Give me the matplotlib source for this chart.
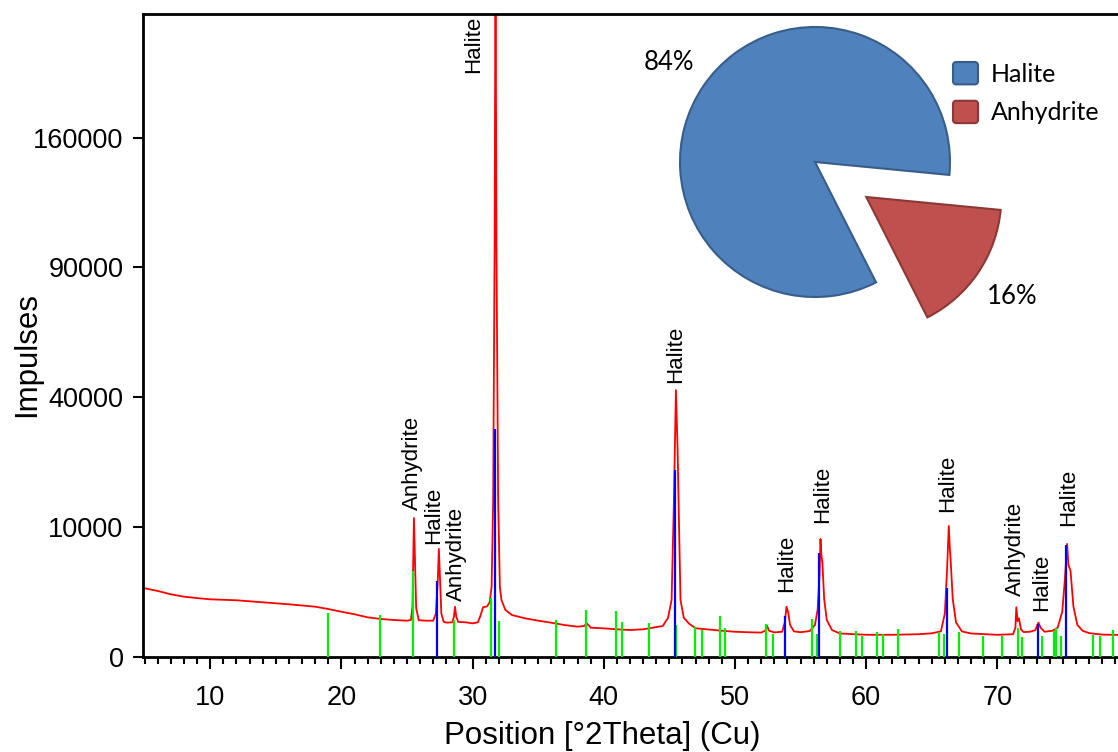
import numpy as np
import matplotlib
matplotlib.use("Agg")
import matplotlib.pyplot as plt
from matplotlib.ticker import MultipleLocator, FixedLocator, FixedFormatter
from matplotlib.legend_handler import HandlerPatch
from matplotlib.patches import FancyBboxPatch

scan_2theta = [
    5.0, 6.0, 7.0, 8.0, 9.0, 10.0, 12.0, 14.0, 16.0, 18.0, 19.0, 20.0, 21.0, 22.0,
    23.0, 24.0, 25.0, 25.3, 25.42, 25.53, 25.6, 25.7, 25.9, 26.5, 27.0, 27.2, 27.35,
    27.43, 27.52, 27.62, 27.8, 28.0, 28.45, 28.58, 28.66, 28.76, 28.9, 29.5, 30.0,
    30.4, 30.6, 30.8, 31.1, 31.3, 31.45, 31.57, 31.68, 31.75, 31.82, 31.95, 32.08,
    32.2, 32.5, 33.0, 34.0, 35.0, 36.0, 37.0, 38.0, 38.5, 38.7, 38.9, 39.0, 40.0,
    41.0, 42.0, 43.0, 44.0, 44.5, 44.9, 45.17, 45.35, 45.5, 45.63, 45.7, 45.85,
    46.1, 46.5, 47.0, 48.0, 49.0, 50.0, 51.0, 52.0, 52.3, 52.45, 52.6, 53.0, 53.6,
    53.8, 53.93, 54.05, 54.2, 54.5, 55.0, 55.7, 56.1, 56.3, 56.45, 56.52, 56.6,
    56.67, 56.8, 57.0, 57.4, 58.0, 60.0, 62.0, 64.0, 65.0, 65.7, 66.0, 66.17, 66.3,
    66.38, 66.45, 66.6, 66.85, 67.3, 68.0, 70.0, 71.2, 71.38, 71.45, 71.55, 71.65,
    71.8, 72.0, 72.5, 72.9, 73.05, 73.14, 73.3, 73.6, 74.2, 74.6, 74.95, 75.15,
    75.32, 75.42, 75.58, 75.8, 76.1, 76.5, 77.0, 78.0, 79.5,
]
scan_counts = [
    2780, 2565, 2310, 2140, 2040, 1955, 1890, 1760, 1630, 1485, 1350, 1200, 1070, 920,
    845, 800, 770, 800, 1500, 11400, 6150, 1400, 790, 770, 770, 1100, 3500,
    6900, 3500, 1100, 720, 690, 700, 950, 1480, 950, 720, 700, 660,
    700, 1000, 1450, 1500, 1750, 2900, 14600, 100000, 300000, 100000, 14600, 2900,
    1910, 1300, 1030, 875, 770, 687, 595, 535, 560, 660, 560, 500, 478,
    445, 423, 445, 520, 560, 900, 1910, 14600, 42200, 25400, 14600, 1910,
    900, 650, 480, 440, 400, 370, 355, 345, 400, 560, 400, 350, 370,
    700, 1480, 1200, 600, 380, 355, 390, 600, 1300, 4000, 8230, 6000,
    5180, 2000, 800, 420, 320, 285, 285, 300, 325, 380, 1100, 4500, 10150,
    7000, 5360, 2000, 700, 380, 320, 285, 300, 500, 1450, 750, 875,
    450, 360, 370, 420, 600, 690, 500, 370, 400, 500, 1200, 3500,
    7550, 5000, 4390, 1500, 600, 400, 330, 290, 280,
]

# reference patterns (stick positions and heights)
halite_2theta = [27.3, 31.7, 45.4, 53.83, 56.42, 66.17, 73.07, 75.27]
halite_counts = [3400, 30700, 20700, 1000, 6400, 2830, 630, 7400]

anhydrite_2theta = [
    19.0, 22.95, 25.46, 28.6, 31.37, 32.0, 36.35, 38.66, 40.9, 41.38, 43.44, 45.5,
    46.92, 47.48, 48.84, 49.25, 52.4, 52.87, 55.86, 56.24, 58.0, 59.2, 59.67, 60.84,
    61.25, 62.42, 65.56, 65.92, 67.06, 68.92, 70.37, 71.54, 71.9, 73.41, 74.33,
    74.51, 74.84, 77.3, 77.81, 78.83,
]
anhydrite_counts = [
    1150, 1020, 4360, 800, 2025, 757, 800, 1295, 1240, 700, 660, 595,
    530, 410, 985, 478, 625, 306, 845, 305, 390, 390, 250, 360,
    305, 455, 370, 305, 370, 260, 255, 478, 230, 255, 400,
    478, 255, 280, 255, 423,
]

# peak labels
label_text = ["Anhydrite", "Halite", "Anhydrite", "Halite", "Halite", "Halite",
              "Halite", "Halite", "Anhydrite", "Halite", "Halite"]
label_2theta = [25.4, 27.05, 28.78, 30.1, 45.5, 53.93, 56.72, 66.25, 71.41, 73.37, 75.4]
label_counts = [12790, 7550, 1860, 202400, 44500, 2510, 10570, 12390, 2210, 1260, 10190]

# phase quantification
phase_names = ["Halite", "Anhydrite"]
phase_pct = [84, 16]
phase_colors = ["#4F81BD", "#C0504D"]
phase_edges = ["#385D8A", "#8C3836"]

y_ticks = [0, 10000, 40000, 90000, 160000]

W, H = 1118, 752
fig = plt.figure(figsize=(W / 100, H / 100), dpi=100)
plt.rcParams["font.family"] = ["Liberation Sans", "DejaVu Sans"]

ax = fig.add_axes([143.3 / W, 1 - 656.7 / H, 1 - 143.3 / W, (656.7 - 14.3) / H])


def _fwd(v):
    return np.sqrt(np.clip(v, 0, None))


def _inv(v):
    return np.asarray(v) ** 2


# square-root intensity axis
ax.set_yscale("function", functions=(_fwd, _inv))

ax.plot(scan_2theta, scan_counts, color="#FF0000", lw=1.3, zorder=2)
ax.vlines(anhydrite_2theta, 0, anhydrite_counts, colors="#00EE00", lw=1.6, zorder=3)
ax.vlines(halite_2theta, 0, halite_counts, colors="#0000FF", lw=1.6, zorder=3)

for t, x, y in zip(label_text, label_2theta, label_counts):
    ax.text(x, y, t, rotation=90, ha="center", va="bottom", fontsize=16, zorder=4)

ax.set_xlim(4.9, 79.2)
ax.set_ylim(0, 245000)

ax.xaxis.set_major_locator(MultipleLocator(10))
ax.xaxis.set_minor_locator(MultipleLocator(1))
ax.yaxis.set_major_locator(FixedLocator(y_ticks))
ax.yaxis.set_major_formatter(FixedFormatter([str(v) for v in y_ticks]))
ax.yaxis.set_minor_locator(FixedLocator([]))

ax.tick_params(axis="x", which="major", length=8.6, width=1.5, labelsize=19.5, pad=11.5)
ax.tick_params(axis="x", which="minor", length=5.2, width=1.5)
ax.tick_params(axis="y", which="major", length=7.2, width=1.5, labelsize=19.5, pad=7)

for side in ("left", "bottom", "top"):
    ax.spines[side].set_linewidth(2.0)
ax.spines["right"].set_visible(False)

ax.set_xlabel("Position [°2Theta] (Cu)", fontsize=22.5)
ax.xaxis.set_label_coords(0.4706, -0.100)
ax.set_ylabel("Impulses", fontsize=22.5)
ax.yaxis.set_label_coords(-0.104, 0.47)

# inset pie with the phase amounts
x0, x1, y0, y1 = 660, 1050, 10, 340
pie_ax = fig.add_axes([x0 / W, 1 - y1 / H, (x1 - x0) / W, (y1 - y0) / H])
wedges, texts, autotexts = pie_ax.pie(
    phase_pct, colors=phase_colors, startangle=-5.5, explode=[0, 0.46],
    autopct="%1.0f%%", pctdistance=1.31,
    wedgeprops=dict(linewidth=1.5),
    textprops=dict(fontsize=18.5, family="Lato", color="black"),
)
for w, ec in zip(wedges, phase_edges):
    w.set_edgecolor(ec)
pie_ax.set_aspect("auto")
pie_ax.set_xlim((x0 - 815) / 135, (x1 - 815) / 135)
pie_ax.set_ylim((162 - y1) / 135, (162 - y0) / 135)
pie_ax.axis("off")


class RoundedSquare(HandlerPatch):
    def create_artists(self, legend, orig_handle, xdescent, ydescent,
                       width, height, fontsize, trans):
        r = 0.15 * height
        p = FancyBboxPatch((-xdescent + r, -ydescent + r), width - 2 * r, height - 2 * r,
                           boxstyle=f"round,pad={r}", transform=trans,
                           facecolor=orig_handle.get_facecolor(),
                           edgecolor=orig_handle.get_edgecolor(), lw=1.5)
        return [p]


fig.legend(
    wedges, phase_names, loc="upper left", bbox_to_anchor=(953 / W, 1 - 62 / H),
    frameon=False, borderpad=0, borderaxespad=0, handlelength=1.0, handleheight=1.0,
    handletextpad=0.5, labelspacing=0.6, prop=dict(family="Lato", size=18),
    handler_map={w: RoundedSquare() for w in wedges},
)

fig.savefig("out.png", dpi=100)
